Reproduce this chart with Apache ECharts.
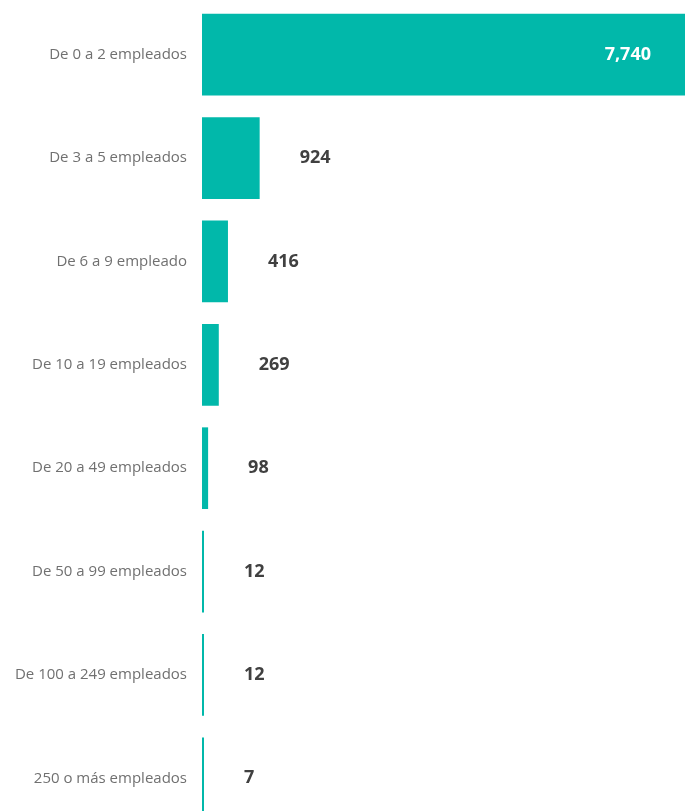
<!DOCTYPE html>
<html>
<head>
<meta charset="utf-8">
<script src="https://cdn.jsdelivr.net/npm/echarts@6/dist/echarts.min.js"></script>
<style>
  html, body { margin: 0; padding: 0; background: #ffffff; overflow: hidden; }
  /* The plot runs a little past the bottom edge of the window */
  #chart { width: 685px; height: 830px; }
</style>
</head>
<body>
<div id="chart"></div>
<script>
// Empresas por tamaño (número de empleados)
const categories = [
  'De 0 a 2 empleados',
  'De 3 a 5 empleados',
  'De 6 a 9 empleado',
  'De 10 a 19 empleados',
  'De 20 a 49 empleados',
  'De 50 a 99 empleados',
  'De 100 a 249 empleados',
  '250 o más empleados'
];
const empresas = [7740, 924, 416, 269, 98, 12, 12, 7];

const maxValue = Math.max.apply(null, empresas);

const chart = echarts.init(document.getElementById('chart'), null, { renderer: 'canvas' });

chart.setOption({
  animation: false,
  grid: { left: 202, right: 0, top: 3, bottom: 0, containLabel: false },
  xAxis: {
    type: 'value',
    min: 0,
    max: maxValue,
    show: false
  },
  yAxis: {
    type: 'category',
    data: categories,
    inverse: true,
    axisLine: { show: false },
    axisTick: { show: false },
    splitLine: { show: false },
    axisLabel: {
      margin: 15,
      color: '#707070',
      fontFamily: 'Open Sans',
      fontSize: 15
    }
  },
  series: [{
    type: 'bar',
    data: empresas.map(function (v) {
      if (v === maxValue) {
        return {
          value: v,
          label: { position: 'insideRight', distance: 34, color: '#ffffff' }
        };
      }
      return v;
    }),
    barCategoryGap: '21%',
    barMinHeight: 2,
    itemStyle: { color: '#01B8AA' },
    label: {
      show: true,
      position: 'right',
      distance: 40,
      color: '#404040',
      fontFamily: 'Open Sans',
      fontWeight: 'bold',
      fontSize: 18,
      formatter: function (p) { return p.value.toLocaleString('en-US'); }
    }
  }]
});
</script>
</body>
</html>
